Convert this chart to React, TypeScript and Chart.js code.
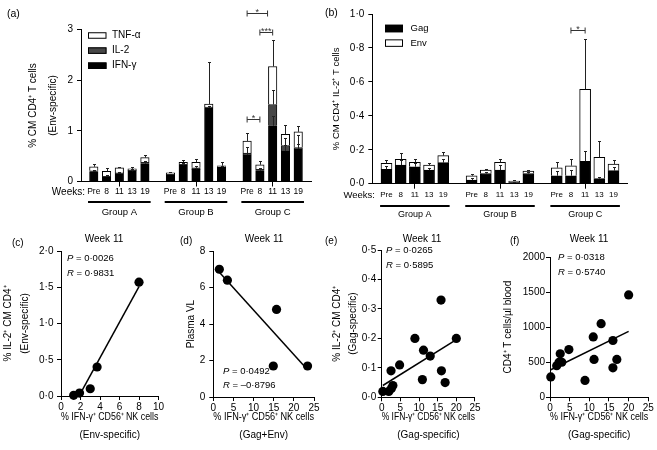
import React, { useEffect, useRef } from 'react';
import { Chart, registerables } from 'chart.js';

Chart.register(...registerables);

const FONT = "'Liberation Sans', Arial, Helvetica, sans-serif";
Chart.defaults.font.family = FONT;
Chart.defaults.color = '#000';

const W = 657;
const H = 450;

// ---------------- data ----------------
const weekLabels = ['Pre', '8', '11', '13', '19'];
const groupLabels = ['Group A', 'Group B', 'Group C'];

// (a) % CM CD4+ T cells (Env-specific), stacked IFN-γ / IL-2 / TNF-α ; Groups A,B,C x weeks
const aIFN = [0.19, 0.09, 0.15, 0.2, 0.35, 0.13, 0.32, 0.24, 1.45, 0.28, 0.52, 0.21, 1.1, 0.6, 0.64];
const aIL2 = [0.02, 0.01, 0.02, 0.02, 0.03, 0.01, 0.02, 0.03, 0.02, 0.01, 0.04, 0.03, 0.42, 0.11, 0.03];
const aTNF = [0.08, 0.1, 0.1, 0.03, 0.09, 0.03, 0.04, 0.11, 0.06, 0.02, 0.24, 0.09, 0.75, 0.22, 0.31];
const aIFNErr = [0.02, 0.01, 0.02, 0.02, 0.03, 0.01, 0.03, 0.03, 0.05, 0.03, 0.05, 0.04, 0.2, 0.12, 0.1];
const aIL2Err = [0.02, 0.02, 0.02, 0.02, 0.03, 0.01, 0.02, 0.03, 0.02, 0.02, 0.13, 0.03, 0.28, 0.14, 0.25];
const aTNFErr = [0.05, 0.07, 0.02, 0.03, 0.05, 0.02, 0.04, 0.07, 0.82, 0.08, 0.16, 0.08, 0.53, 0.19, 0.12];
const aSig = [
  { from: 13, to: 14, y: 1.23, label: '*' },
  { from: 14, to: 15, y: 2.95, label: '***' },
  { from: 13, to: 14.6, y: 3.32, label: '*' },
];

// (b) % CM CD4+ IL-2+ T cells, stacked Gag / Env
const bGag = [0.084, 0.11, 0.1, 0.08, 0.124, 0.022, 0.06, 0.08, 0.006, 0.06, 0.047, 0.047, 0.132, 0.03, 0.077];
const bEnv = [0.036, 0.033, 0.026, 0.03, 0.041, 0.025, 0.02, 0.046, 0.01, 0.015, 0.047, 0.059, 0.424, 0.125, 0.039];
const bGagErr = [0.02, 0.03, 0.02, 0.01, 0.02, 0.01, 0.01, 0.03, 0.003, 0.01, 0.028, 0.033, 0.058, 0.01, 0.023];
const bEnvErr = [0.02, 0.04, 0.02, 0.01, 0.02, 0.011, 0.008, 0.022, 0.004, 0.005, 0.036, 0.039, 0.294, 0.095, 0.024];
const bSig = [{ from: 14, to: 15, y: 0.906, label: '*' }];

// (c) Week 11, Env-specific
const cX = [1.3, 1.9, 3.0, 3.7, 8.0];
const cY = [0.01, 0.04, 0.1, 0.4, 1.57];
// (d) Week 11, Gag+Env vs plasma VL
const dX = [1.5, 3.5, 14.9, 15.7, 23.4];
const dY = [7.0, 6.4, 1.7, 4.8, 1.7];
// (e) Week 11, Gag-specific
const eX = [0.3, 1.9, 2.6, 3.0, 2.5, 4.8, 8.9, 11.2, 10.9, 13.0, 15.9, 16.0, 17.0, 20.0];
const eY = [0.02, 0.02, 0.03, 0.04, 0.09, 0.11, 0.2, 0.16, 0.06, 0.14, 0.33, 0.09, 0.05, 0.2];
// (f) Week 11, CD4+ T cells/µl blood
const fX = [0.2, 1.7, 2.3, 2.6, 3.0, 4.8, 8.9, 11.0, 11.2, 13.0, 16.0, 16.0, 17.0, 20.0];
const fY = [290, 450, 500, 620, 500, 680, 240, 860, 540, 1050, 810, 420, 540, 1460];

const stats = {
  c: { p: '0·0026', r: '0·9831' },
  d: { p: '0·0492', r: '–0·8796' },
  e: { p: '0·0265', r: '0·5895' },
  f: { p: '0·0318', r: '0·5740' },
};

// ---------------- helpers ----------------
const slots = (v: number[]) => [null, ...v.slice(0, 5), null, ...v.slice(5, 10), null, ...v.slice(10, 15), null];
const barLabels = ['', ...weekLabels, '', ...weekLabels, '', ...weekLabels, ''];
const centerIdx = [3, 9, 15];
const dot = (v: number, d: number) => v.toFixed(d).replace('.', '·');
const pts = (xs: number[], ys: number[]) => xs.map((x, i) => ({ x, y: ys[i] }));
function fitLine(xs: number[], ys: number[]) {
  const n = xs.length;
  const mx = xs.reduce((a, b) => a + b, 0) / n;
  const my = ys.reduce((a, b) => a + b, 0) / n;
  let sxy = 0;
  let sxx = 0;
  xs.forEach((x, i) => {
    sxy += (x - mx) * (ys[i] - my);
    sxx += (x - mx) * (x - mx);
  });
  const m = sxy / sxx;
  const b = my - m * mx;
  const x0 = Math.min(...xs);
  const x1 = Math.max(...xs);
  return [
    { x: x0, y: b + m * x0 },
    { x: x1, y: b + m * x1 },
  ];
}

type Part = { t: string; i?: boolean };
type TextItem = { x: number; y: number; text: string | Part[]; size: number; align?: 'left' | 'center' | 'right' };
type Deco = {
  texts?: TextItem[];
  errors?: (number | null)[][];
  cap?: number;
  brackets?: { from: number; to: number; y: number; label: string }[];
  groups?: { from: number; to: number; label: string }[];
  groupLineY?: number;
  groupTextY?: number;
  groupSize?: number;
  legend?: { x: number; y: number; step: number; w: number; h: number; textX: number; size: number; order: number[] };
};

function drawText(ctx: CanvasRenderingContext2D, item: TextItem) {
  const parts: Part[] = typeof item.text === 'string' ? [{ t: item.text }] : item.text;
  const fontOf = (p: Part) => `${p.i ? 'italic ' : ''}${item.size}px ${FONT}`;
  let total = 0;
  for (const p of parts) {
    ctx.font = fontOf(p);
    total += ctx.measureText(p.t).width;
  }
  let x = item.x;
  if (item.align === 'center') x -= total / 2;
  else if (item.align === 'right') x -= total;
  ctx.textAlign = 'left';
  ctx.textBaseline = 'middle';
  ctx.fillStyle = '#000';
  for (const p of parts) {
    ctx.font = fontOf(p);
    ctx.fillText(p.t, x, item.y);
    x += ctx.measureText(p.t).width;
  }
}

function makeDeco(cfg: Deco) {
  return {
    id: 'deco',
    afterDraw(chart: any) {
      const ctx: CanvasRenderingContext2D = chart.ctx;
      const xs = chart.scales.x;
      const ys = chart.scales.y;
      ctx.save();
      if (cfg.errors) {
        ctx.strokeStyle = '#222';
        ctx.lineWidth = 1;
        const cap = cfg.cap ?? 1.5;
        cfg.errors.forEach((errs, di) => {
          const meta = chart.getDatasetMeta(di);
          meta.data.forEach((el: any, j: number) => {
            const e = errs[j];
            if (e == null) return;
            let cum = 0;
            for (let k = 0; k <= di; k++) cum += (chart.data.datasets[k].data[j] as number) || 0;
            const x = Math.round(el.x) + 0.5;
            const y0 = ys.getPixelForValue(cum);
            const y1 = Math.round(ys.getPixelForValue(cum + e)) + 0.5;
            ctx.beginPath();
            ctx.moveTo(x, y0);
            ctx.lineTo(x, y1);
            ctx.moveTo(x - cap, y1);
            ctx.lineTo(x + cap, y1);
            ctx.stroke();
          });
        });
      }
      if (cfg.brackets) {
        for (const b of cfg.brackets) {
          const x1 = xs.getPixelForValue(b.from);
          const x2 = xs.getPixelForValue(b.to);
          const y = Math.round(ys.getPixelForValue(b.y)) + 0.5;
          ctx.strokeStyle = '#333';
          ctx.lineWidth = 1;
          ctx.beginPath();
          ctx.moveTo(x1, y);
          ctx.lineTo(x2, y);
          ctx.moveTo(x1, y - 3);
          ctx.lineTo(x1, y + 3);
          ctx.moveTo(x2, y - 3);
          ctx.lineTo(x2, y + 3);
          ctx.stroke();
          ctx.fillStyle = '#333';
          ctx.font = `9px ${FONT}`;
          ctx.textAlign = 'center';
          ctx.textBaseline = 'alphabetic';
          ctx.fillText(b.label, (x1 + x2) / 2, y + 1);
        }
      }
      if (cfg.groups) {
        for (const g of cfg.groups) {
          const x1 = xs.getPixelForValue(g.from - 0.45);
          const x2 = xs.getPixelForValue(g.to + 0.45);
          ctx.strokeStyle = '#000';
          ctx.lineWidth = 1.8;
          ctx.beginPath();
          ctx.moveTo(x1, cfg.groupLineY!);
          ctx.lineTo(x2, cfg.groupLineY!);
          ctx.stroke();
          drawText(ctx, {
            x: xs.getPixelForValue((g.from + g.to) / 2),
            y: cfg.groupTextY!,
            text: g.label,
            size: cfg.groupSize!,
            align: 'center',
          });
        }
      }
      if (cfg.legend) {
        const L = cfg.legend;
        L.order.forEach((di, k) => {
          const ds = chart.data.datasets[di];
          const cy = L.y + k * L.step;
          ctx.fillStyle = ds.backgroundColor;
          ctx.fillRect(L.x, cy - L.h / 2, L.w, L.h);
          ctx.strokeStyle = '#000';
          ctx.lineWidth = 1;
          ctx.strokeRect(L.x + 0.5, cy - L.h / 2 + 0.5, L.w - 1, L.h - 1);
          drawText(ctx, { x: L.textX, y: cy, text: ds.label, size: L.size });
        });
      }
      if (cfg.texts) cfg.texts.forEach((t) => drawText(ctx, t));
      ctx.restore();
    },
  };
}

type Area = { l: number; r: number; t: number; b: number };
function layoutFor(area: Area, yLeft: number, xBottom: number) {
  return {
    padding: { left: yLeft, top: area.t, right: W - area.r, bottom: H - xBottom },
    yW: area.l - yLeft,
    xH: xBottom - area.b,
  };
}

const axisCommon = (size: number, tickLen: number, pad: number) => ({
  grid: { drawOnChartArea: false, drawTicks: true, tickLength: tickLen, color: '#000', lineWidth: 1 },
  border: { display: true, color: '#000', width: 1 },
  ticks: { color: '#000', font: { family: FONT, size }, padding: pad, maxRotation: 0, minRotation: 0, autoSkip: false },
});

function barConfig(o: {
  datasets: any[];
  area: Area;
  yLeft: number;
  xBottom: number;
  yMax: number;
  yStep: number;
  yFmt: (v: number) => string;
  yTitle: string | string[];
  yTitleSize: number;
  yTitleLH: number;
  weekSize: number;
  weekPad: number;
  deco: Deco;
}) {
  const lay = layoutFor(o.area, o.yLeft, o.xBottom);
  const xa = axisCommon(o.weekSize, 5, o.weekPad);
  const ya = axisCommon(10, 4, 4);
  return {
    type: 'bar',
    data: { labels: barLabels, datasets: o.datasets },
    options: {
      responsive: false,
      animation: false,
      events: [],
      layout: { padding: lay.padding },
      plugins: { legend: { display: false }, tooltip: { enabled: false }, title: { display: false } },
      scales: {
        x: {
          type: 'category',
          stacked: true,
          offset: false,
          ...xa,
          grid: {
            ...xa.grid,
            offset: false,
            color: (c: any) => (centerIdx.includes(c.index) ? '#000' : 'rgba(0,0,0,0)'),
          },
          afterFit: (s: any) => {
            s.height = lay.xH;
          },
        },
        y: {
          stacked: true,
          min: 0,
          max: o.yMax,
          ...ya,
          ticks: { ...ya.ticks, stepSize: o.yStep, callback: (v: any) => o.yFmt(Number(v)) },
          title: {
            display: true,
            text: o.yTitle,
            color: '#000',
            padding: 0,
            font: { family: FONT, size: o.yTitleSize, lineHeight: o.yTitleLH / o.yTitleSize },
          },
          afterFit: (s: any) => {
            s.width = lay.yW;
          },
        },
      },
    },
    plugins: [makeDeco(o.deco)],
  };
}

function scatterConfig(o: {
  xs: number[];
  ys: number[];
  area: Area;
  yLeft: number;
  xBottom: number;
  xMax: number;
  xStep: number;
  yMax: number;
  yStep: number;
  yFmt: (v: number) => string;
  yTitle: string | string[];
  yTitleLH: number;
  xTitle: string[];
  yTickPad: number;
  deco: Deco;
}) {
  const lay = layoutFor(o.area, o.yLeft, o.xBottom);
  const xa = axisCommon(10, 4, 1);
  const ya = axisCommon(10, 4, o.yTickPad);
  return {
    type: 'scatter',
    data: {
      datasets: [
        {
          type: 'scatter',
          data: pts(o.xs, o.ys),
          pointRadius: 4.6,
          pointBackgroundColor: '#000',
          pointBorderColor: '#000',
          pointBorderWidth: 0,
          clip: false,
        },
        {
          type: 'line',
          data: fitLine(o.xs, o.ys),
          borderColor: '#000',
          borderWidth: 1.5,
          pointRadius: 0,
          fill: false,
        },
      ],
    },
    options: {
      responsive: false,
      animation: false,
      events: [],
      layout: { padding: lay.padding },
      plugins: { legend: { display: false }, tooltip: { enabled: false }, title: { display: false } },
      scales: {
        x: {
          type: 'linear',
          min: 0,
          max: o.xMax,
          ...xa,
          ticks: { ...xa.ticks, stepSize: o.xStep },
          title: {
            display: true,
            text: o.xTitle,
            color: '#000',
            padding: 0,
            font: { family: FONT, size: 10, lineHeight: 1.8 },
          },
          afterFit: (s: any) => {
            s.height = lay.xH;
          },
        },
        y: {
          type: 'linear',
          min: 0,
          max: o.yMax,
          ...ya,
          ticks: { ...ya.ticks, stepSize: o.yStep, callback: (v: any) => o.yFmt(Number(v)) },
          title: {
            display: true,
            text: o.yTitle,
            color: '#000',
            padding: 0,
            font: { family: FONT, size: 10, lineHeight: o.yTitleLH / 10 },
          },
          afterFit: (s: any) => {
            s.width = lay.yW;
          },
        },
      },
    },
    plugins: [makeDeco(o.deco)],
  };
}

const statText = (x: number, y: number, s: { p: string; r: string }): TextItem[] => [
  { x, y, size: 9.5, text: [{ t: 'P', i: true }, { t: ` = ${s.p}` }] },
  { x, y: y + 14.5, size: 9.5, text: [{ t: 'R', i: true }, { t: ` = ${s.r}` }] },
];

const groupDefs = groupLabels.map((label, g) => ({ from: 1 + g * 6, to: 5 + g * 6, label }));
const nkTitle = '% IFN-γ⁺ CD56⁺ NK cells';

function buildConfigs(): any[] {
  const a = barConfig({
    datasets: [
      { label: 'IFN-γ', data: slots(aIFN), backgroundColor: '#000', borderColor: '#000', borderWidth: 1, barThickness: 8.5 },
      { label: 'IL-2', data: slots(aIL2), backgroundColor: '#474747', borderColor: '#111', borderWidth: 1, barThickness: 8.5 },
      { label: 'TNF-α', data: slots(aTNF), backgroundColor: '#fff', borderColor: '#000', borderWidth: 1, barThickness: 8.5 },
    ],
    area: { l: 81, r: 311, t: 29.5, b: 181.5 },
    yLeft: 23,
    xBottom: 200,
    yMax: 3,
    yStep: 1,
    yFmt: (v) => String(v),
    yTitle: ['% CM CD4⁺ T cells', '(Env-specific)'],
    yTitleSize: 10,
    yTitleLH: 20,
    weekSize: 8.5,
    weekPad: 0.5,
    deco: {
      errors: [slots(aIFNErr), slots(aIL2Err), slots(aTNFErr)],
      brackets: aSig,
      groups: groupDefs,
      groupLineY: 202,
      groupTextY: 212.5,
      groupSize: 9.5,
      legend: { x: 88, y: 35.5, step: 15.1, w: 18.5, h: 6.5, textX: 112, size: 10, order: [2, 1, 0] },
      texts: [
        { x: 7, y: 14, text: '(a)', size: 10.5 },
        { x: 85, y: 192, text: 'Weeks:', size: 10, align: 'right' },
      ],
    },
  });

  const b = barConfig({
    datasets: [
      { label: 'Gag', data: slots(bGag), backgroundColor: '#000', borderColor: '#000', borderWidth: 1, barThickness: 11 },
      { label: 'Env', data: slots(bEnv), backgroundColor: '#fff', borderColor: '#000', borderWidth: 1, barThickness: 11 },
    ],
    area: { l: 372.3, r: 627.7, t: 14, b: 183.7 },
    yLeft: 330,
    xBottom: 203,
    yMax: 1,
    yStep: 0.2,
    yFmt: (v) => dot(v, 1),
    yTitle: '% CM CD4⁺ IL-2⁺ T cells',
    yTitleSize: 9.5,
    yTitleLH: 12,
    weekSize: 8,
    weekPad: 1.2,
    deco: {
      errors: [slots(bGagErr), slots(bEnvErr)],
      brackets: bSig,
      groups: groupDefs,
      groupLineY: 206,
      groupTextY: 215,
      groupSize: 9,
      legend: { x: 385, y: 28.5, step: 14.6, w: 18, h: 7.5, textX: 410.5, size: 9.5, order: [0, 1] },
      texts: [
        { x: 325, y: 13.5, text: '(b)', size: 10.5 },
        { x: 375, y: 195.5, text: 'Weeks:', size: 9.5, align: 'right' },
      ],
    },
  });

  const c = scatterConfig({
    xs: cX,
    ys: cY,
    area: { l: 61, r: 158.5, t: 251, b: 396 },
    yLeft: 0,
    xBottom: 444,
    xMax: 10,
    xStep: 2,
    yMax: 2,
    yStep: 0.5,
    yFmt: (v) => dot(v, 1),
    yTitle: ['% IL-2⁺ CM CD4⁺', '(Env-specific)'],
    yTitleLH: 17,
    xTitle: [nkTitle, '(Env-specific)'],
    yTickPad: 3.5,
    deco: {
      texts: [
        { x: 12, y: 243, text: '(c)', size: 10 },
        { x: 104, y: 239, text: 'Week 11', size: 10, align: 'center' },
        ...statText(67, 258.5, stats.c),
      ],
    },
  });

  const d = scatterConfig({
    xs: dX,
    ys: dY,
    area: { l: 213.3, r: 314, t: 251, b: 397 },
    yLeft: 185.7,
    xBottom: 444,
    xMax: 25,
    xStep: 5,
    yMax: 8,
    yStep: 2,
    yFmt: (v) => String(v),
    yTitle: 'Plasma VL',
    yTitleLH: 12,
    xTitle: [nkTitle, '(Gag+Env)'],
    yTickPad: 4,
    deco: {
      texts: [
        { x: 180, y: 241, text: '(d)', size: 10 },
        { x: 264, y: 239, text: 'Week 11', size: 10, align: 'center' },
        ...statText(223, 371, stats.d),
      ],
    },
  });

  const e = scatterConfig({
    xs: eX,
    ys: eY,
    area: { l: 381.7, r: 475, t: 250, b: 397.3 },
    yLeft: 329,
    xBottom: 444,
    xMax: 25,
    xStep: 5,
    yMax: 0.5,
    yStep: 0.1,
    yFmt: (v) => dot(v, 1),
    yTitle: ['% IL-2⁺ CM CD4⁺', '(Gag-specific)'],
    yTitleLH: 16,
    xTitle: [nkTitle, '(Gag-specific)'],
    yTickPad: 1.5,
    deco: {
      texts: [
        { x: 325, y: 241, text: '(e)', size: 10 },
        { x: 422, y: 239, text: 'Week 11', size: 10, align: 'center' },
        ...statText(386, 250.5, stats.e),
      ],
    },
  });

  const f = scatterConfig({
    xs: fX,
    ys: fY,
    area: { l: 550, r: 648.3, t: 257, b: 397.3 },
    yLeft: 502,
    xBottom: 444,
    xMax: 25,
    xStep: 5,
    yMax: 2000,
    yStep: 500,
    yFmt: (v) => String(v),
    yTitle: 'CD4⁺ T cells/µl blood',
    yTitleLH: 12,
    xTitle: [nkTitle, '(Gag-specific)'],
    yTickPad: 1,
    deco: {
      texts: [
        { x: 510, y: 241, text: '(f)', size: 10 },
        { x: 589, y: 239, text: 'Week 11', size: 10, align: 'center' },
        ...statText(558, 257.5, stats.f),
      ],
    },
  });

  return [a, b, c, d, e, f];
}

export default function App() {
  const refs = useRef<(HTMLCanvasElement | null)[]>([]);
  useEffect(() => {
    document.body.style.margin = '0';
    const charts = buildConfigs().map((cfg, i) => new Chart(refs.current[i] as HTMLCanvasElement, cfg));
    return () => {
      charts.forEach((ch) => ch.destroy());
    };
  }, []);
  return (
    <div style={{ position: 'fixed', left: 0, top: 0, width: W, height: H, background: '#fff' }}>
      {[0, 1, 2, 3, 4, 5].map((i) => (
        <canvas
          key={i}
          ref={(el) => {
            refs.current[i] = el;
          }}
          width={W}
          height={H}
          style={{ position: 'absolute', left: 0, top: 0, width: W, height: H }}
        />
      ))}
    </div>
  );
}
